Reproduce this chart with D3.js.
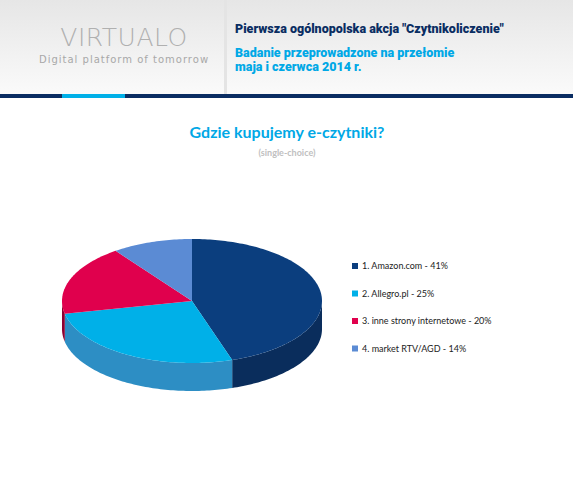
<!DOCTYPE html>
<html><head><meta charset="utf-8">
<script src="https://cdn.jsdelivr.net/npm/d3@7"></script>
<style>body{margin:0;background:#fff}</style></head>
<body><div id="chart"></div>
<script>
var labels = ["1. Amazon.com - 41%", "2. Allegro.pl - 25%", "3. inne strony internetowe - 20%", "4. market RTV/AGD - 14%"];
// slice sizes as drawn in the picture
var values = [45, 26.7, 18.3, 10];
var topColors = ["#0b3e7e", "#00b0e8", "#e0004d", "#5b8bd4"];
var sideColors = ["#0a2d5c", "#2d8ec4", "#8c0031", "#3f6aa8"];

var width = 573, height = 480;
var svg = d3.select("#chart").append("svg").attr("width", width).attr("height", height)
    .style("font-family", "Lato, sans-serif");

// header
var defs = svg.append("defs");
var hg = defs.append("linearGradient").attr("id", "hg").attr("x1", 0).attr("y1", 0).attr("x2", 0).attr("y2", 1);
hg.append("stop").attr("offset", 0).attr("stop-color", "#e6e6e6");
hg.append("stop").attr("offset", 1).attr("stop-color", "#fafafa");
svg.append("rect").attr("width", width).attr("height", 94).attr("fill", "url(#hg)");
svg.append("rect").attr("x", 224).attr("width", 3).attr("height", 94).attr("fill", "#e4e4e4");
svg.append("rect").attr("y", 94).attr("width", width).attr("height", 4).attr("fill", "#0a2d62");
svg.append("rect").attr("x", 62).attr("y", 94).attr("width", 63).attr("height", 4).attr("fill", "#00b0e8");
svg.append("text").attr("x", 124).attr("y", 46).attr("text-anchor", "middle").style("font-family", "DejaVu Sans, sans-serif")
    .attr("font-size", 25).attr("font-weight", 200).attr("fill", "#b0b0b0").attr("letter-spacing", 0.5).text("VIRTUALO");
svg.append("text").attr("x", 124).attr("y", 63).attr("text-anchor", "middle").style("font-family", "DejaVu Sans, sans-serif")
    .attr("font-size", 10).attr("fill", "#a8a8a8").attr("letter-spacing", 1).text("Digital platform of tomorrow");
var hf = "Roboto, sans-serif";
svg.append("text").attr("x", 235).attr("y", 33).attr("font-size", 12.5).attr("font-weight", 900).style("font-family", hf)
    .attr("fill", "#0a2d62").text('Pierwsza ogólnopolska akcja "Czytnikoliczenie"');
svg.append("text").attr("x", 235).attr("y", 57).attr("font-size", 12.5).attr("font-weight", 900).style("font-family", hf)
    .attr("fill", "#00a8e6").text("Badanie przeprowadzone na przełomie");
svg.append("text").attr("x", 235).attr("y", 71).attr("font-size", 12.5).attr("font-weight", 900).style("font-family", hf)
    .attr("fill", "#00a8e6").text("maja i czerwca 2014 r.");

svg.append("text").attr("x", 287).attr("y", 138).attr("text-anchor", "middle").attr("font-size", 16)
    .attr("font-weight", "bold").attr("fill", "#00a8e6").text("Gdzie kupujemy e-czytniki?");
svg.append("text").attr("x", 287).attr("y", 156).attr("text-anchor", "middle").attr("font-size", 9)
    .attr("font-weight", "bold").attr("fill", "#c0c0c0").text("(single-choice)");

// 3D pie
var cx = 192, cy = 301, rx = 130, ry = 62, depth = 28;
var pie = d3.pie().sort(null).startAngle(0).endAngle(2 * Math.PI);
var arcs = pie(values);
function pt(a, dy) { return [cx + rx * Math.sin(a), cy - ry * Math.cos(a) + (dy || 0)]; }
function arcPts(a0, a1, dy) {
    var n = Math.max(2, Math.ceil((a1 - a0) / 0.02)), p = [];
    for (var i = 0; i <= n; i++) p.push(pt(a0 + (a1 - a0) * i / n, dy));
    return p;
}
var line = d3.line();
var g = svg.append("g");
arcs.forEach(function (d, i) {
    var a0 = Math.max(d.startAngle, Math.PI / 2), a1 = Math.min(d.endAngle, 3 * Math.PI / 2);
    if (a1 <= a0) return;
    var top = arcPts(a0, a1, 0), bot = arcPts(a0, a1, depth).reverse();
    g.append("path").attr("d", line(top.concat(bot)) + "Z").attr("fill", sideColors[i]);
});
arcs.forEach(function (d, i) {
    var p = [[cx, cy]].concat(arcPts(d.startAngle, d.endAngle, 0));
    g.append("path").attr("d", line(p) + "Z").attr("fill", topColors[i]);
});

// legend
var leg = svg.append("g").attr("transform", "translate(352,269)");
labels.forEach(function (l, i) {
    var r = leg.append("g").attr("transform", "translate(0," + i * 27.5 + ")");
    r.append("rect").attr("width", 6).attr("height", 6).attr("y", -6).attr("fill", topColors[i]);
    r.append("text").attr("x", 10).attr("font-size", 9).attr("fill", "#222").text(l);
});
</script></body></html>
